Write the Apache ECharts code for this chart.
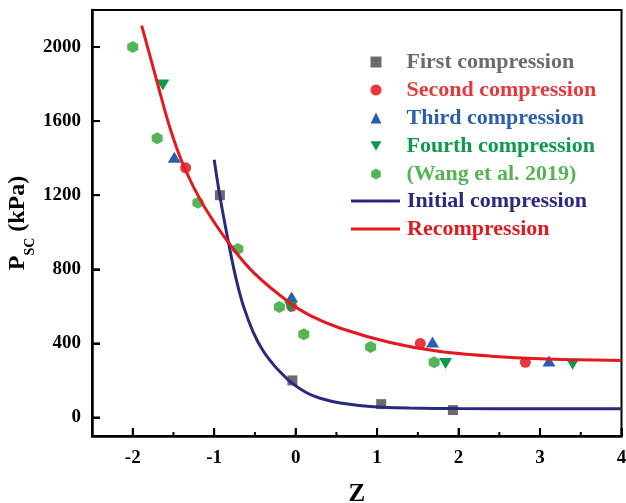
<!DOCTYPE html>
<html>
<head>
<meta charset="utf-8">
<script src="https://cdn.jsdelivr.net/npm/echarts@6/dist/echarts.min.js"></script>
<style>html,body{margin:0;padding:0;background:#fff;}#c{width:626px;height:503px;}</style>
</head>
<body>
<div id="c"></div>
<script>
// ---- data ----
const xMin = -2.5, xMax = 4, yMin = -100, yMax = 2200;
const xTicks = [-2, -1, 0, 1, 2, 3, 4];
const xMinorTicks = [-1.5, -0.5, 0.5, 1.5, 2.5, 3.5];
const yTicks = [0, 400, 800, 1200, 1600, 2000];

const firstX = [-0.93, -0.04, 1.05, 1.93];
const firstY = [1200, 200, 72, 40];
const secondX = [-1.35, -0.05, 1.53, 2.82];
const secondY = [1348, 600, 400, 298];
const thirdX = [-1.49, -0.05, 1.68, 3.11];
const thirdY = [1405, 650, 408, 305];
const fourthX = [-1.63, -0.06, 1.84, 3.40];
const fourthY = [1795, 597, 292, 288];
const wangX = [-2.0, -1.70, -1.20, -0.71, -0.20, 0.10, 0.92, 1.70];
const wangY = [2000, 1508, 1160, 910, 597, 449, 381, 298];

const initX = [-1.0, -0.93, -0.8, -0.72, -0.64, -0.52, -0.4, -0.27, -0.15, -0.05, 0.14, 0.3, 0.55, 0.95, 1.4, 2.0, 3.0, 4.0];
const initY = [1392, 1195, 890, 728, 600, 460, 360, 284, 228, 187, 132, 104, 78, 58, 51, 48, 47, 47];
const recX = [-1.89, -1.7, -1.54, -1.36, -1.13, -0.8, -0.5, -0.07, 0.18, 0.55, 1.16, 1.77, 2.4, 3.0, 4.0];
const recY = [2116, 1810, 1559, 1343, 1145, 930, 775, 618, 550, 482, 405, 356, 331, 317, 307];

const scatterNames = ['First compression', 'Second compression', 'Third compression', 'Fourth compression', '(Wang et al. 2019)'];
const lineNames = ['Initial compression', 'Recompression'];
const scatterColors = ['#6b6b6b', '#e8383f', '#2b5fae', '#0e9a4c', '#55b455'];
const lineColors = ['#29297f', '#e3191f'];

const zip = (xs, ys) => xs.map((x, i) => [x, ys[i]]);
const FONT = '"Liberation Serif", "Times New Roman", serif';
const hexPath = 'path://M0,-1 L0.866,-0.5 L0.866,0.5 L0,1 L-0.866,0.5 L-0.866,-0.5 Z';
const downTri = 'path://M-1,-0.85 L1,-0.85 L0,0.85 Z';
const symbols = ['rect', 'circle', 'triangle', downTri, hexPath];
const sizes = [10, 11, [13, 11], [13, 11], [11, 12]];

const chart = echarts.init(document.getElementById('c'), null, {renderer: 'canvas'});

function scatter(idx, xs, ys) {
  return {
    name: scatterNames[idx], type: 'scatter', data: zip(xs, ys),
    symbol: symbols[idx], symbolSize: sizes[idx], symbolKeepAspect: false,
    itemStyle: {color: scatterColors[idx], opacity: 1},
    xAxisIndex: 0, yAxisIndex: 0
  };
}
function line(idx, xs, ys) {
  return {
    name: lineNames[idx], type: 'line', data: zip(xs, ys),
    symbol: 'none', showSymbol: false, smooth: 0.3,
    lineStyle: {color: lineColors[idx], width: 3},
    itemStyle: {color: lineColors[idx]},
    xAxisIndex: 0, yAxisIndex: 0
  };
}

// inward tick marks, placed through the axes' own scales
function tickSeries(name, data, dx, dy) {
  return {
    type: 'custom', name: name, silent: true, clip: false, z: 5,
    coordinateSystem: 'cartesian2d', xAxisIndex: 0, yAxisIndex: 0,
    data: data,
    renderItem: function (params, api) {
      const p = api.coord([api.value(0), api.value(1)]);
      return {type: 'line', shape: {x1: p[0], y1: p[1], x2: p[0] + dx, y2: p[1] + dy},
        style: {stroke: '#000', lineWidth: 2}};
    }
  };
}

const legendText = {fontFamily: FONT, fontWeight: 'bold', fontSize: 22, lineHeight: 22};

chart.setOption({
  animation: false,
  backgroundColor: '#fff',
  grid: {left: 92, right: 4.5, top: 10, bottom: 67, show: true, borderColor: '#000', borderWidth: 2,
    backgroundColor: 'transparent', containLabel: false, outerBoundsMode: 'none'},
  legend: [{
    orient: 'vertical', left: 370.5, top: 51, padding: 0,
    itemWidth: 11, itemHeight: 11, itemGap: 6, symbolKeepAspect: true,
    textStyle: Object.assign({padding: [0, 0, 0, 20]}, legendText),
    data: scatterNames.map((n, i) => ({name: n, icon: symbols[i], textStyle: {color: scatterColors[i]}}))
  }, {
    orient: 'vertical', left: 351, top: 190, padding: 0,
    itemWidth: 49, itemHeight: 3, itemGap: 6, icon: 'rect',
    textStyle: Object.assign({padding: [0, 0, 0, 2]}, legendText),
    data: lineNames.map((n, i) => ({name: n, icon: 'rect', textStyle: {color: lineColors[i]}}))
  }],
  xAxis: {
    type: 'value', min: xMin, max: xMax, position: 'bottom', z: 10,
    name: 'Z', nameLocation: 'middle', nameGap: 46, nameMoveOverlap: false,
    nameTextStyle: {fontFamily: FONT, fontWeight: 'bold', fontSize: 25, color: '#000'},
    axisLine: {show: true, onZero: false, lineStyle: {color: '#000', width: 2.5}},
    axisTick: {show: true, inside: true, length: 8, customValues: xTicks, lineStyle: {color: '#000', width: 2}},
    axisLabel: {customValues: xTicks, margin: 13, fontFamily: FONT, fontWeight: 'bold', fontSize: 19, color: '#000',
      formatter: v => String(v)},
    splitLine: {show: false}
  },
  yAxis: {
    type: 'value', min: yMin, max: yMax, z: 10,
    name: '{p|P}{sub|SC}{p| (kPa)}', nameLocation: 'middle', nameGap: 55, nameMoveOverlap: false,
    nameTextStyle: {
      color: '#000',
      rich: {
        p: {fontFamily: FONT, fontWeight: 'bold', fontSize: 24, color: '#000'},
        sub: {fontFamily: FONT, fontWeight: 'bold', fontSize: 14, color: '#000', padding: [24, 0, 0, 0]}
      }
    },
    axisLine: {show: true, onZero: false, lineStyle: {color: '#000', width: 2.5}},
    axisTick: {show: true, inside: true, length: 8, customValues: yTicks, lineStyle: {color: '#000', width: 2}},
    axisLabel: {customValues: yTicks, margin: 11, fontFamily: FONT, fontWeight: 'bold', fontSize: 19, color: '#000',
      formatter: v => String(v)},
    splitLine: {show: false}
  },
  series: [
    scatter(4, wangX, wangY),
    scatter(0, firstX, firstY),
    scatter(1, secondX, secondY),
    scatter(2, thirdX, thirdY),
    scatter(3, fourthX, fourthY),
    line(0, initX, initY),
    line(1, recX, recY),
    tickSeries('xMajorTicks', xTicks.map(v => [v, yMin]), 0, -8),
    tickSeries('xMinorTicks', xMinorTicks.map(v => [v, yMin]), 0, -4),
    tickSeries('yTicks', yTicks.map(v => [xMin, v]), 8, 0)
  ]
});
</script>
</body>
</html>
